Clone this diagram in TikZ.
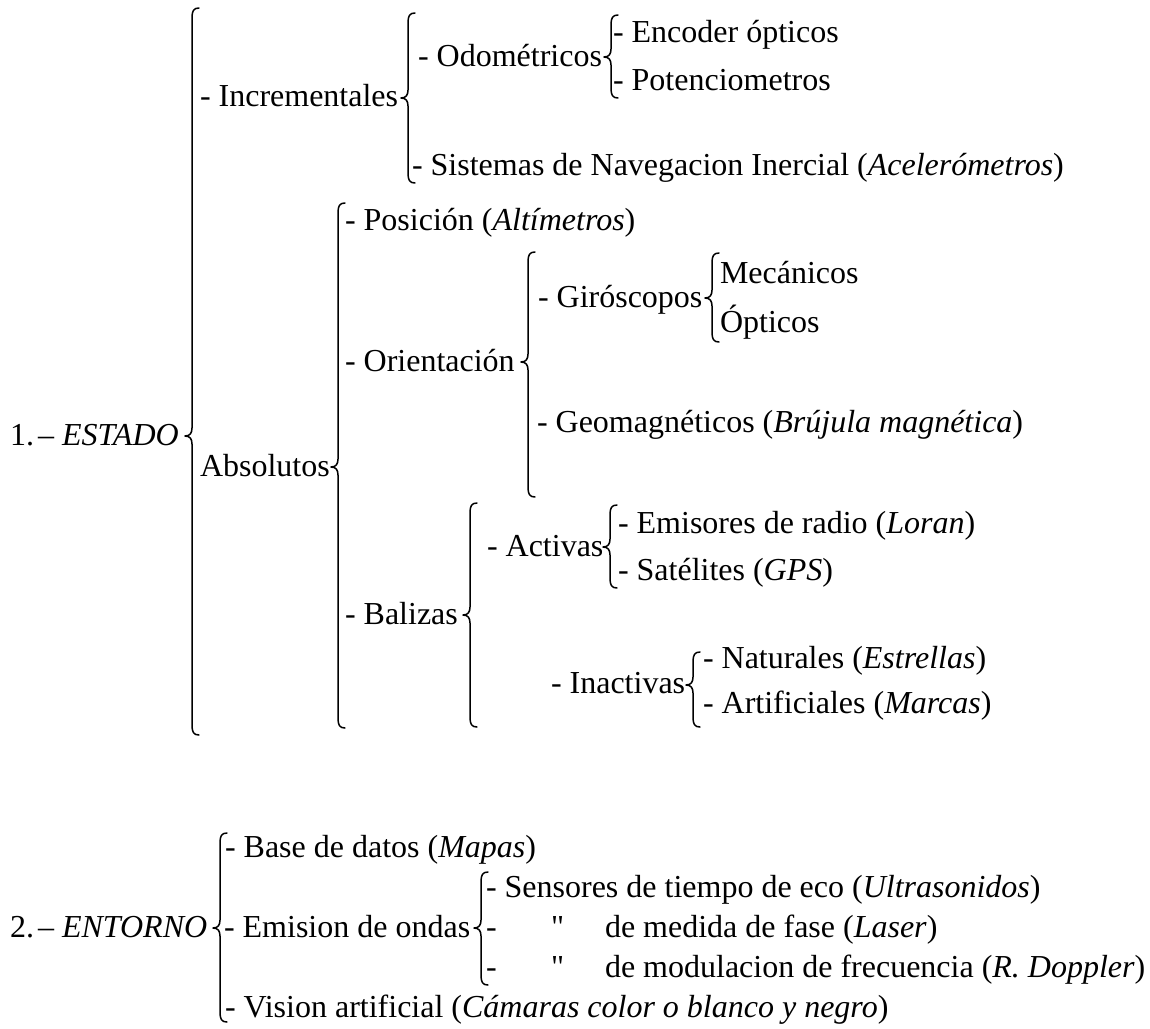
\documentclass[tikz,border=0pt]{standalone}
\usepackage{fontspec}
\setmainfont{Liberation Serif}
% curly brace: #1 = x of the stem, #2 = top, #3 = tip, #4 = bottom
\newcommand\curlybrace[4]{%
  \draw[brc] (#1+7,#2) .. controls (#1+1.5,#2) and (#1,#2+3) .. (#1,#2+10)
    -- (#1,#3-8) .. controls (#1,#3-3) and (#1-2,#3) .. (#1-7,#3)
    .. controls (#1-2,#3) and (#1,#3+3) .. (#1,#3+8)
    -- (#1,#4-10) .. controls (#1,#4-3) and (#1+1.5,#4) .. (#1+7,#4);}
% straight ditto mark
\newcommand\ditto{{\addfontfeatures{Ligatures=TeXOff}\char34}}
\begin{document}
\begin{tikzpicture}[x=1pt,y=-1pt,
  lbl/.style={anchor=base west, inner sep=0pt, outer sep=0pt,
              font=\fontsize{32}{38}\selectfont},
  brc/.style={line width=1.5pt, line cap=round, line join=round}]
\useasboundingbox[fill=white] (0,0) rectangle (1150,1028);

% ---------- 1. ESTADO ----------
\node[lbl] (estado) at (10,445) {1.\hspace{4pt}– \textit{ESTADO}};
\curlybrace{192}{8}{436}{735}

\node[lbl] (incr) at (200,106) {- Incrementales};
\curlybrace{408}{13}{98}{183}
\node[lbl] (odom) at (418,66) {- Odométricos};
\curlybrace{611}{15}{57}{98}
\node[lbl] (enc) at (613,42) {- Encoder ópticos};
\node[lbl] (pot) at (613,90) {- Potenciometros};
\node[lbl] (sni) at (412,175) {- Sistemas de Navegacion Inercial (\textit{Acelerómetros})};

\node[lbl] (abs) at (200,476) {Absolutos};
\curlybrace{338}{203}{467}{728}
\node[lbl] (pos) at (345,230) {- Posición (\textit{Altímetros})};

\node[lbl] (ori) at (345,371) {- Orientación};
\curlybrace{528}{252}{362}{497}
\node[lbl] (gir) at (538,307) {- Giróscopos};
\curlybrace{712}{253}{298}{342}
\node[lbl] (mec) at (720,283) {Mecánicos};
\node[lbl] (opt) at (720,332) {Ópticos};
\node[lbl] (geo) at (537,432) {- Geomagnéticos (\textit{Brújula magnética})};

\node[lbl] (bal) at (345,624) {- Balizas};
\curlybrace{470}{503}{615}{727}
\node[lbl] (act) at (487,556) {- Activas};
\curlybrace{610}{505}{547}{588}
\node[lbl] (emi) at (618,533) {- Emisores de radio (\textit{Loran})};
\node[lbl] (sat) at (618,580) {- Satélites (\textit{GPS})};
\node[lbl] (ina) at (551,693) {- Inactivas};
\curlybrace{693}{652}{685}{727}
\node[lbl] (nat) at (703,668) {- Naturales (\textit{Estrellas})};
\node[lbl] (art) at (703,713) {- Artificiales (\textit{Marcas})};

% ---------- 2. ENTORNO ----------
\node[lbl] (entorno) at (10,937) {2.\hspace{4pt}– \textit{ENTORNO}};
\curlybrace{220}{833}{928}{1022}
\node[lbl] (bd) at (225,857) {- Base de datos (\textit{Mapas})};
\node[lbl] (ondas) at (224,937) {- Emision de ondas};
\curlybrace{481}{872}{928}{985}
\node[lbl] (eco) at (486,897) {- Sensores de tiempo de eco (\textit{Ultrasonidos})};
\node[lbl] (dA) at (486,937) {-};
\node[lbl] (qA) at (551,937) {\ditto};
\node[lbl] (fase) at (605,937) {de medida de fase (\textit{Laser})};
\node[lbl] (dB) at (486,977) {-};
\node[lbl] (qB) at (551,977) {\ditto};
\node[lbl] (frec) at (605,977) {de modulacion de frecuencia (\textit{R. Doppler})};
\node[lbl] (vis) at (225,1017) {- Vision artificial (\textit{Cámaras color o blanco y negro})};
\end{tikzpicture}
\end{document}
